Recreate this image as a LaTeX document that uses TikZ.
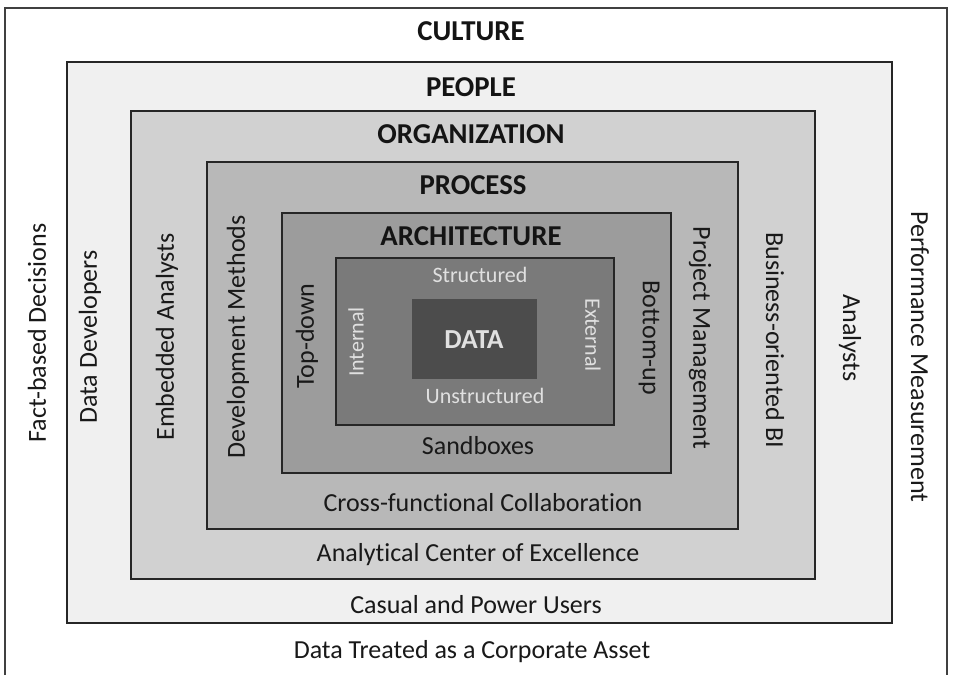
\documentclass[tikz,border=0pt]{standalone}
\usepackage{fontspec}
\setmainfont{Carlito}[Ligatures=NoCommon]
\begin{document}
\begin{tikzpicture}[x=1pt,y=-1pt,
  layer/.style={rectangle, draw=black!85, line width=1.3pt, inner sep=0pt},
  lbl/.style={inner sep=0pt, text=black!90, font=\fontsize{26}{26}\selectfont},
  inlbl/.style={inner sep=0pt, text=black!12, font=\fontsize{22}{22}\selectfont},
  head/.style={inner sep=0pt, text=black!92, font=\fontsize{28.8}{28.8}\selectfont\bfseries},
  up/.style={rotate=90},
  down/.style={rotate=-90}]
\useasboundingbox (0,0) rectangle (953,675);
\fill[white] (0,0) rectangle (953,675);

% outer frame (open at the bottom)
\coordinate (fbl) at (5,675);
\coordinate (ftl) at (5,8);
\coordinate (ftr) at (947,8);
\coordinate (fbr) at (947,675);
\draw[black!75, line width=1.2pt] (fbl) -- (ftl) -- (ftr) -- (fbr);

% nested layers
\node[layer, fill=black!6,  minimum width=825pt, minimum height=561pt] (people) at (479.5,342.5) {};
\node[layer, fill=black!18, minimum width=684pt, minimum height=468pt] (org)    at (473,345) {};
\node[layer, fill=black!28, minimum width=531pt, minimum height=367pt] (proc)   at (472.5,345.5) {};
\node[layer, fill=black!39, minimum width=389pt, minimum height=260pt] (arch)   at (476.5,343) {};
\node[layer, fill=black!52, minimum width=278pt, minimum height=167pt] (ring)   at (475,341.5) {};
\node[rectangle, inner sep=0pt, fill=black!70, minimum width=125pt, minimum height=80pt] (core) at (474.5,339) {};

% headings
\node[head] (tculture) at (471,31)  {CULTURE};
\node[head] (tpeople)  at (471,87)  {PEOPLE};
\node[head] (torg)     at (471,134) {ORGANIZATION};
\node[head] (tproc)    at (473,185) {PROCESS};
\node[head] (tarch)    at (471,236) {ARCHITECTURE};
\node[head, text=black!12, font=\fontsize{27.5}{27.5}\selectfont\bfseries] (tdata) at (474,340) {DATA};

% data ring labels
\node[inlbl] (tstruct)   at (480,275) {Structured};
\node[inlbl] (tunstruct) at (485,396) {Unstructured};
\node[inlbl, up]   (tint) at (356,342) {Internal};
\node[inlbl, down] (text) at (593,335) {External};

% bottom labels
\node[lbl] (tsand)  at (478,446) {Sandboxes};
\node[lbl] (tcross) at (483,503) {Cross-functional Collaboration};
\node[lbl] (tace)   at (478,555) {Analytical Center of Excellence};
\node[lbl] (tcpu)   at (476,605) {Casual and Power Users};
\node[lbl] (tasset) at (472,652) {Data Treated as a Corporate Asset};

% left labels
\node[lbl, up] (tfact) at (37,333)  {Fact-based Decisions};
\node[lbl, up] (tdev)  at (90,337)  {Data Developers};
\node[lbl, up] (temb)  at (167,337) {Embedded Analysts};
\node[lbl, up] (tmeth) at (238,337) {Development Methods};
\node[lbl, up] (ttop)  at (307,336) {Top-down};

% right labels
\node[lbl, down] (tbot)  at (649,338) {Bottom-up};
\node[lbl, down] (tpm)   at (700,338) {Project Management};
\node[lbl, down] (tbi)   at (775,340) {Business-oriented BI};
\node[lbl, down] (tana)  at (850,338) {Analysts};
\node[lbl, down] (tperf) at (920,357) {Performance Measurement};
\end{tikzpicture}
\end{document}
